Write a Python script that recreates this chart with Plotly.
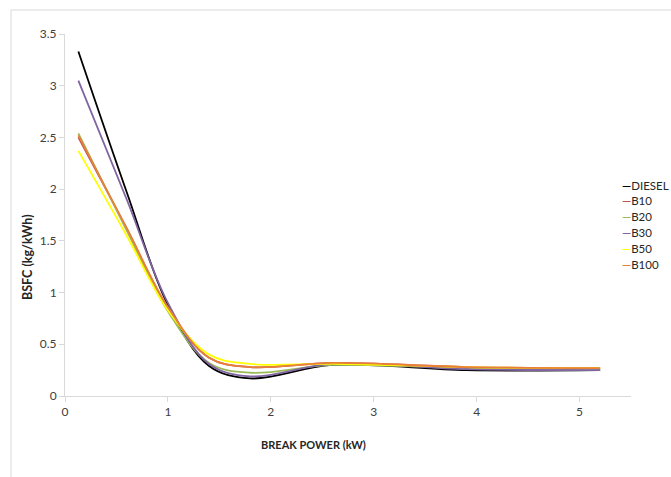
import plotly.graph_objects as go

# Data
series_names = ["DIESEL", "B10", "B20", "B30", "B50", "B100"]
power_kw = [0.13, 0.6, 1.0, 1.4, 1.8, 2.6, 3.9, 5.2]
bsfc_diesel = [3.33, 1.97, 0.88, 0.29, 0.17, 0.30, 0.25, 0.25]
bsfc_b10 = [2.50, 1.62, 0.85, 0.37, 0.28, 0.32, 0.28, 0.27]
bsfc_b20 = [2.54, 1.60, 0.82, 0.32, 0.225, 0.30, 0.27, 0.26]
bsfc_b30 = [3.05, 1.90, 0.90, 0.31, 0.19, 0.31, 0.26, 0.25]
bsfc_b50 = [2.37, 1.55, 0.83, 0.40, 0.31, 0.31, 0.28, 0.27]
bsfc_b100 = [2.52, 1.62, 0.86, 0.37, 0.28, 0.32, 0.28, 0.27]
series_values = [bsfc_diesel, bsfc_b10, bsfc_b20, bsfc_b30, bsfc_b50, bsfc_b100]
colors = ["#000000", "#C0504D", "#9BBB59", "#8064A2", "#FFFF00", "#E8803A"]

x_ticks = [0, 1, 2, 3, 4, 5]
y_ticks = [0, 0.5, 1, 1.5, 2, 2.5, 3, 3.5]
y_tick_text = ["0", "0.5", "1", "1.5", "2", "2.5", "3", "3.5"]

FONT = "Lato, Carlito, Calibri, sans-serif"

fig = go.Figure()
for name, vals, col in zip(series_names, series_values, colors):
    fig.add_trace(go.Scatter(
        x=power_kw, y=vals, name=name, mode="lines",
        line=dict(color=col, width=1.8, shape="spline", smoothing=1.0),
        showlegend=False,
    ))

W, H = 671, 477
ml, mr, mt, mb = 65, 40, 34, 81
pw, ph = W - ml - mr, H - mt - mb

def px_to_paper_x(px):
    return (px - ml) / pw

def py_to_paper_y(py):
    return (H - mb - py) / ph

# manual legend built from the series names and colours
for i, (name, col) in enumerate(zip(series_names, colors)):
    py = 185 + i * 15.8
    fig.add_annotation(
        x=px_to_paper_x(620), y=py_to_paper_y(py), xref="paper", yref="paper",
        xanchor="left", yanchor="middle", showarrow=False,
        text=f"<span style='color:{col}'><b>—</b></span>{name}",
        font=dict(family=FONT, size=11.5, color="#262626"),
    )

# axis titles
fig.add_annotation(
    x=px_to_paper_x(27), y=py_to_paper_y(257), xref="paper", yref="paper",
    xanchor="center", yanchor="middle",
    text="<b>BSFC (kg/kWh)</b>", textangle=-90, showarrow=False,
    font=dict(family=FONT, size=12.5, color="#262626"),
)
fig.add_annotation(
    x=px_to_paper_x(313), y=py_to_paper_y(453), xref="paper", yref="paper",
    text="<b>BREAK POWER (kW)</b>", showarrow=False,
    font=dict(family=FONT, size=11, color="#262626"),
)

# chart-area border (clipped at right/bottom as in the reference)
border = "#D9D9D9"
fig.add_shape(type="line", xref="paper", yref="paper",
              x0=px_to_paper_x(11), x1=px_to_paper_x(700),
              y0=py_to_paper_y(10), y1=py_to_paper_y(10),
              line=dict(color=border, width=1))
fig.add_shape(type="line", xref="paper", yref="paper",
              x0=px_to_paper_x(11), x1=px_to_paper_x(11),
              y0=py_to_paper_y(10), y1=py_to_paper_y(500),
              line=dict(color=border, width=1))

fig.update_layout(
    width=W, height=H,
    margin=dict(l=ml, r=mr, t=mt, b=mb),
    paper_bgcolor="white", plot_bgcolor="white",
    font=dict(family=FONT, size=12, color="#404040"),
    showlegend=False,
    xaxis=dict(range=[0, 5.5], tickvals=x_ticks, showgrid=False, zeroline=False,
               showline=True, linecolor="#D9D9D9", linewidth=1,
               ticks="outside", ticklen=5, tickcolor="#D9D9D9",
               tickfont=dict(family=FONT, size=12, color="#404040")),
    yaxis=dict(range=[0, 3.5], tickvals=y_ticks, ticktext=y_tick_text,
               showgrid=False, zeroline=False,
               showline=True, linecolor="#D9D9D9", linewidth=1,
               ticks="outside", ticklen=5, tickcolor="#D9D9D9",
               tickfont=dict(family=FONT, size=12, color="#404040")),
)

fig.write_html(
    "out.html",
    config={"displayModeBar": False},
    post_script="document.body.style.margin='0';document.body.style.overflow='hidden';",
)
